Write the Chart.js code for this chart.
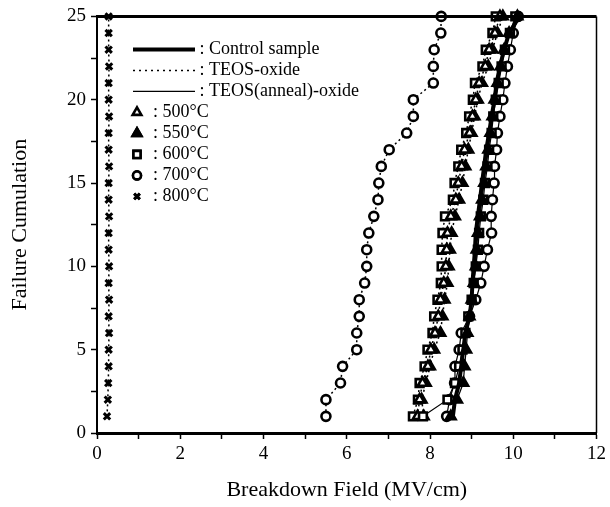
<!DOCTYPE html>
<html>
<head>
<meta charset="utf-8">
<script src="https://cdn.jsdelivr.net/npm/chart.js@4.4.0/dist/chart.umd.min.js"></script>
<style>
  html, body { margin: 0; padding: 0; background: #fff; }
  #wrap { width: 610px; height: 507px; }
</style>
</head>
<body>
<div id="wrap"><canvas id="chart"></canvas></div>
<script>
// failure count (y) for every sample series
const failureCounts = [1, 2, 3, 4, 5, 6, 7, 8, 9, 10, 11, 12, 13, 14, 15, 16, 17, 18, 19, 20, 21, 22, 23, 24, 25];

// breakdown field (MV/cm), TEOS-oxide (dotted)
const teos500 = [7.70, 7.75, 7.82, 7.95, 8.02, 8.12, 8.20, 8.25, 8.33, 8.38, 8.40, 8.42, 8.50, 8.62, 8.68, 8.76, 8.83, 8.95, 9.02, 9.10, 9.18, 9.33, 9.42, 9.56, 9.68];
const teos550 = [7.85, 7.80, 7.90, 8.00, 8.10, 8.25, 8.30, 8.35, 8.42, 8.45, 8.48, 8.52, 8.60, 8.70, 8.78, 8.85, 8.92, 9.00, 9.07, 9.15, 9.25, 9.40, 9.50, 9.62, 9.75];
const teos600 = [7.59, 7.71, 7.75, 7.87, 7.94, 8.06, 8.10, 8.18, 8.26, 8.28, 8.28, 8.30, 8.36, 8.55, 8.59, 8.68, 8.75, 8.87, 8.94, 9.03, 9.08, 9.26, 9.34, 9.50, 9.58];
const teos700 = [5.50, 5.50, 5.85, 5.90, 6.24, 6.24, 6.30, 6.30, 6.43, 6.48, 6.48, 6.53, 6.65, 6.75, 6.77, 6.83, 7.02, 7.44, 7.60, 7.60, 8.08, 8.08, 8.10, 8.26, 8.27];
const teos800 = [0.24, 0.26, 0.27, 0.28, 0.28, 0.29, 0.28, 0.29, 0.28, 0.29, 0.28, 0.28, 0.29, 0.28, 0.28, 0.29, 0.28, 0.28, 0.29, 0.28, 0.28, 0.29, 0.28, 0.28, 0.28];

// TEOS(anneal)-oxide (thin solid)
const anneal550 = [8.50, 8.65, 8.80, 8.83, 8.87, 8.90, 8.95, 9.00, 9.05, 9.10, 9.12, 9.15, 9.20, 9.25, 9.30, 9.35, 9.40, 9.45, 9.50, 9.55, 9.62, 9.70, 9.78, 9.90, 10.10];
const anneal600 = [7.83, 8.42, 8.60, 8.70, 8.78, 8.85, 8.92, 9.00, 9.05, 9.10, 9.15, 9.18, 9.22, 9.28, 9.32, 9.38, 9.42, 9.48, 9.52, 9.58, 9.65, 9.72, 9.80, 9.92, 10.05];
const anneal700 = [8.40, 8.47, 8.59, 8.60, 8.70, 8.75, 8.95, 9.10, 9.22, 9.30, 9.38, 9.48, 9.47, 9.50, 9.54, 9.55, 9.60, 9.62, 9.68, 9.75, 9.80, 9.86, 9.93, 10.00, 10.12];

// control sample (thick line)
const control = [8.55, 8.60, 8.70, 8.75, 8.80, 8.85, 8.95, 9.00, 9.02, 9.05, 9.08, 9.10, 9.15, 9.20, 9.25, 9.30, 9.35, 9.42, 9.48, 9.55, 9.60, 9.68, 9.78, 9.90, 10.15];

const lineLegend = [" : Control sample", " : TEOS-oxide", " : TEOS(anneal)-oxide"];
const tempLegend = [": 500°C", ": 550°C", ": 600°C", ": 700°C", ": 800°C"];

const xTicks = [0, 2, 4, 6, 8, 10, 12];
const yTicks = [0, 5, 10, 15, 20, 25];

const serif = "'Liberation Serif', 'Times New Roman', serif";

const toPoints = (xs) => xs.map((x, i) => ({ x, y: failureCounts[i] }));

const dotted = [2, 3];

const marker = {
    t500: { pointStyle: "triangle", pointBackgroundColor: "#fff", pointRadius: 5.5, pointBorderWidth: 2.6 },
    t550: { pointStyle: "triangle", pointBackgroundColor: "#000", pointRadius: 5.5, pointBorderWidth: 2.6 },
    t600: { pointStyle: "rect", pointBackgroundColor: "#fff", pointRadius: 5.5, pointBorderWidth: 2.6 },
    t700: { pointStyle: "circle", pointBackgroundColor: "#fff", pointRadius: 4.5, pointBorderWidth: 2.6 },
    t800: { pointStyle: "crossRot", pointBackgroundColor: "#000", pointRadius: 4.5, pointBorderWidth: 3 }
};

const series = (values, mk, dash, width) => Object.assign({
    data: toPoints(values),
    showLine: true,
    borderColor: "#000",
    borderWidth: width,
    borderDash: dash,
    pointBorderColor: "#000",
    clip: false
}, mk);

const datasets = [
    series(control, { pointRadius: 0 }, [], 4),
    series(anneal550, marker.t550, [], 1.2),
    series(anneal600, marker.t600, [], 1.2),
    series(anneal700, marker.t700, [], 1.2),
    series(teos500, marker.t500, dotted, 1.5),
    series(teos550, marker.t550, dotted, 1.5),
    series(teos600, marker.t600, dotted, 1.5),
    series(teos700, marker.t700, dotted, 1.5),
    series(teos800, marker.t800, dotted, 1.5)
];

const framePlugin = {
    id: "frame",
    afterDatasetsDraw(chart) {
        const { ctx, chartArea: a } = chart;
        ctx.save();
        ctx.strokeStyle = "#000";
        ctx.lineWidth = 3;
        ctx.beginPath();
        ctx.moveTo(a.left, a.top);
        ctx.lineTo(a.right, a.top);
        ctx.stroke();
        ctx.lineWidth = 1.5;
        ctx.beginPath();
        ctx.moveTo(a.right, a.top);
        ctx.lineTo(a.right, a.bottom);
        ctx.stroke();
        ctx.restore();
    }
};

const legendPlugin = {
    id: "insideLegend",
    afterDatasetsDraw(chart) {
        const { ctx, chartArea: a } = chart;
        const x0 = a.left + 36;
        const x1 = a.left + 98;
        const textX = a.left + 98;
        const row = 21;
        const top = a.top + 33;
        ctx.save();
        ctx.fillStyle = "#000";
        ctx.strokeStyle = "#000";
        ctx.font = "18px " + serif;
        ctx.textBaseline = "middle";

        const lineStyles = [[4, []], [1.5, [2, 4]], [1.2, []]];
        lineLegend.forEach((label, i) => {
            const y = top + i * row;
            ctx.lineWidth = lineStyles[i][0];
            ctx.setLineDash(lineStyles[i][1]);
            ctx.beginPath();
            ctx.moveTo(x0, y);
            ctx.lineTo(x1, y);
            ctx.stroke();
            ctx.setLineDash([]);
            ctx.fillText(label, textX, y);
        });

        const marks = [marker.t500, marker.t550, marker.t600, marker.t700, marker.t800];
        tempLegend.forEach((label, i) => {
            const y = top + (i + 3) * row;
            const m = marks[i];
            Chart.helpers.drawPoint(ctx, {
                pointStyle: m.pointStyle,
                radius: m.pointRadius - 0.5,
                rotation: 0,
                borderWidth: m.pointBorderWidth
            }, a.left + 40, y);
            ctx.fillStyle = m.pointBackgroundColor;
            ctx.lineWidth = m.pointBorderWidth;
            ctx.strokeStyle = "#000";
            ctx.fill();
            ctx.stroke();
            ctx.fillStyle = "#000";
            ctx.fillText(label, a.left + 56, y);
        });
        ctx.restore();
    }
};

new Chart(document.getElementById("chart"), {
    type: "scatter",
    data: { datasets },
    options: {
        responsive: true,
        maintainAspectRatio: false,
        animation: false,
        layout: { padding: { top: 15, right: 13, left: 0, bottom: 0 } },
        plugins: {
            legend: { display: false },
            tooltip: { enabled: false }
        },
        scales: {
            x: {
                type: "linear",
                min: 0,
                max: 12,
                afterFit: (s) => { s.height = 74; },
                border: { display: true, color: "#000", width: 3 },
                grid: { drawOnChartArea: false, color: "#000", tickLength: 6, tickWidth: 1.5 },
                ticks: {
                    stepSize: 1,
                    color: "#000",
                    padding: 4,
                    maxRotation: 0,
                    font: { family: serif, size: 19 },
                    callback: (v) => (xTicks.includes(v) ? String(v) : "")
                },
                title: {
                    display: true,
                    text: "Breakdown Field (MV/cm)",
                    color: "#000",
                    font: { family: serif, size: 22 },
                    padding: { top: 0, bottom: 4 }
                }
            },
            y: {
                type: "linear",
                min: 0,
                max: 25,
                afterFit: (s) => { s.width = 97; },
                border: { display: true, color: "#000", width: 2 },
                grid: { drawOnChartArea: false, color: "#000", tickLength: 6, tickWidth: 1.5 },
                ticks: {
                    stepSize: 2.5,
                    color: "#000",
                    padding: 5,
                    font: { family: serif, size: 19 },
                    callback: (v) => (yTicks.includes(v) ? String(v) : "")
                },
                title: {
                    display: true,
                    text: "Failure Cumulation",
                    color: "#000",
                    font: { family: serif, size: 22 },
                    padding: { top: 7, bottom: 0 }
                }
            }
        }
    },
    plugins: [framePlugin, legendPlugin]
});
</script>
</body>
</html>
